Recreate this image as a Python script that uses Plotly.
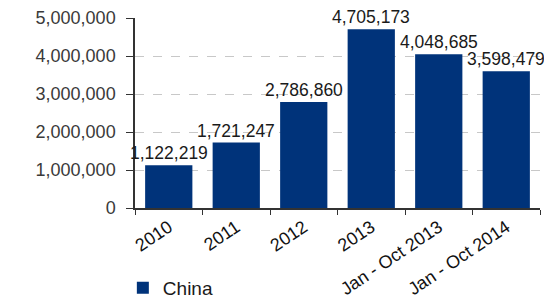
import plotly.graph_objects as go

categories = ["2010", "2011", "2012", "2013", "Jan - Oct 2013", "Jan - Oct 2014"]
china = [1122219, 1721247, 2786860, 4705173, 4048685, 3598479]
y_ticks = [0, 1000000, 2000000, 3000000, 4000000, 5000000]
y_tick_labels = ["0", "1,000,000", "2,000,000", "3,000,000", "4,000,000", "5,000,000"]

BAR = "#00337a"
FONT = "Liberation Sans, Arial, sans-serif"

fig = go.Figure()
fig.add_trace(go.Bar(
    x=categories, y=china, name="China",
    marker=dict(color=BAR, line=dict(width=0)),
    cliponaxis=False,
))

for i, v in enumerate(china):
    fig.add_annotation(x=i, y=v, text=f"{v:,}", showarrow=False,
                       xanchor="center", yanchor="bottom", yshift=1,
                       borderpad=0,
                       font=dict(family=FONT, size=17.5, color="#1a1a1a"))

# page has an 8px default body margin, so figure is sized/offset accordingly
fig.update_layout(
    width=544, height=292,
    margin=dict(l=127, r=12, t=10, b=92, autoexpand=False),
    paper_bgcolor="white", plot_bgcolor="white",
    bargap=0.3,
    showlegend=True,
    legend=dict(x=-0.03, y=-0.42, xanchor="left", yanchor="middle",
                font=dict(family=FONT, size=19, color="#1a1a1a"),
                bgcolor="rgba(0,0,0,0)", itemwidth=30),
    font=dict(family=FONT),
)
fig.update_yaxes(
    range=[0, 5000000], tickvals=y_ticks, ticktext=y_tick_labels,
    showgrid=True, gridcolor="#c8c8c8", griddash="dash", gridwidth=1,
    showline=True, linecolor="#333333", linewidth=1.5,
    ticks="outside", ticklen=7, tickcolor="#333333",
    ticklabelstandoff=7,
    tickfont=dict(family=FONT, size=18, color="#3a3a3a"),
    zeroline=False, automargin=False,
)
fig.update_xaxes(
    type="category", range=[-0.5, len(categories) - 0.5],
    tickangle=-34, tickson="boundaries",
    showline=True, linecolor="#333333", linewidth=1.5,
    ticks="outside", ticklen=5, tickcolor="#333333",
    tickfont=dict(family=FONT, size=18, color="#111111"),
    automargin=False,
)
fig.write_html("out.html")
